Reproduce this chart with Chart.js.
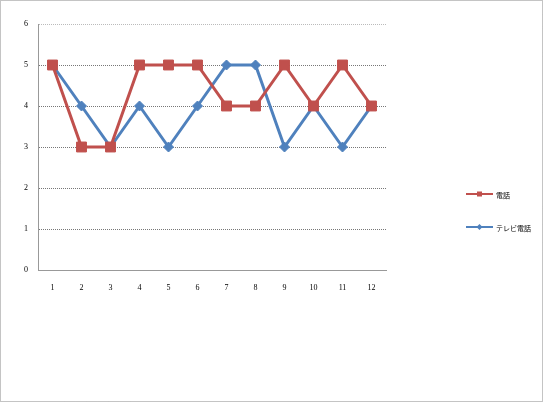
<!DOCTYPE html>
<html>
<head>
<meta charset="utf-8">
<style>
  html, body { margin: 0; padding: 0; background: #fff; }
  #wrap { width: 543px; height: 402px; position: relative; }
</style>
<script src="https://cdn.jsdelivr.net/npm/chart.js"></script>
</head>
<body>
<div id="wrap"><canvas id="myChart" width="543" height="402"></canvas></div>
<script>
const months = ['1', '2', '3', '4', '5', '6', '7', '8', '9', '10', '11', '12'];
const phoneValues = [5, 3, 3, 5, 5, 5, 4, 4, 5, 4, 5, 4];
const videoPhoneValues = [5, 4, 3, 4, 3, 4, 5, 5, 3, 4, 3, 4];
const seriesNames = ['電話', 'テレビ電話'];

const red = '#C0504D';
const blue = '#4F81BD';
const tickFont = { family: 'Liberation Serif', size: 8 };

// dotted frame around the whole picture + right-side legend
const framePlugin = {
    id: 'frame',
    beforeDraw(chart) {
        const ctx = chart.ctx;
        ctx.save();
        ctx.fillStyle = '#fff';
        ctx.fillRect(0, 0, chart.width, chart.height);
        ctx.strokeStyle = '#888';
        ctx.lineWidth = 1;
        ctx.setLineDash([1, 1]);
        ctx.strokeRect(0.5, 0.5, chart.width - 1, chart.height - 1);
        ctx.restore();
    },
    afterDraw(chart) {
        const ctx = chart.ctx;
        const x0 = 466, x1 = 493;
        const rows = [194, 227];
        ctx.save();
        chart.data.datasets.forEach((ds, i) => {
            const y = rows[i];
            ctx.strokeStyle = ds.borderColor;
            ctx.lineWidth = 2;
            ctx.beginPath();
            ctx.moveTo(x0, y);
            ctx.lineTo(x1, y);
            ctx.stroke();
            ctx.fillStyle = ds.borderColor;
            const m = (x0 + x1) / 2;
            if (ds.pointStyle === 'rect') {
                ctx.fillRect(m - 2.5, y - 2.5, 5, 5);
            } else {
                ctx.beginPath();
                ctx.moveTo(m, y - 3);
                ctx.lineTo(m + 3, y);
                ctx.lineTo(m, y + 3);
                ctx.lineTo(m - 3, y);
                ctx.closePath();
                ctx.fill();
            }
            ctx.fillStyle = '#000';
            ctx.font = '7px "Noto Sans CJK JP"';
            ctx.textBaseline = 'middle';
            ctx.fillText(ds.label, x1 + 3, y + 1);
        });
        ctx.restore();
    }
};

new Chart(document.getElementById('myChart'), {
    type: 'line',
    data: {
        labels: months,
        datasets: [{
            label: seriesNames[0],
            data: phoneValues,
            borderColor: red,
            backgroundColor: red,
            borderWidth: 3,
            pointStyle: 'rect',
            pointRadius: 7,
            pointBorderWidth: 1,
            tension: 0
        }, {
            label: seriesNames[1],
            data: videoPhoneValues,
            borderColor: blue,
            backgroundColor: blue,
            borderWidth: 3,
            pointStyle: 'rectRot',
            pointRadius: 5,
            pointBorderWidth: 1,
            tension: 0
        }]
    },
    options: {
        responsive: false,
        animation: false,
        layout: { padding: { left: 0, top: 24, right: 157, bottom: 0 } },
        plugins: { legend: { display: false }, tooltip: { enabled: false } },
        scales: {
            x: {
                offset: true,
                grid: { display: false, drawTicks: false },
                border: { display: true, color: '#999', dash: [1, 1] },
                ticks: { font: tickFont, color: '#000', padding: 13, maxRotation: 0 },
                afterFit(scale) { scale.height = 132; }
            },
            y: {
                min: 0,
                max: 6,
                ticks: { stepSize: 1, font: tickFont, color: '#000', padding: 10 },
                grid: {
                    color: (c) => c.tick && c.tick.value === 6 ? '#bbb' : '#777',
                    drawTicks: false
                },
                border: { display: true, color: '#999', dash: [1, 1] },
                afterFit(scale) { scale.width = 38; }
            }
        }
    },
    plugins: [framePlugin]
});
</script>
</body>
</html>
